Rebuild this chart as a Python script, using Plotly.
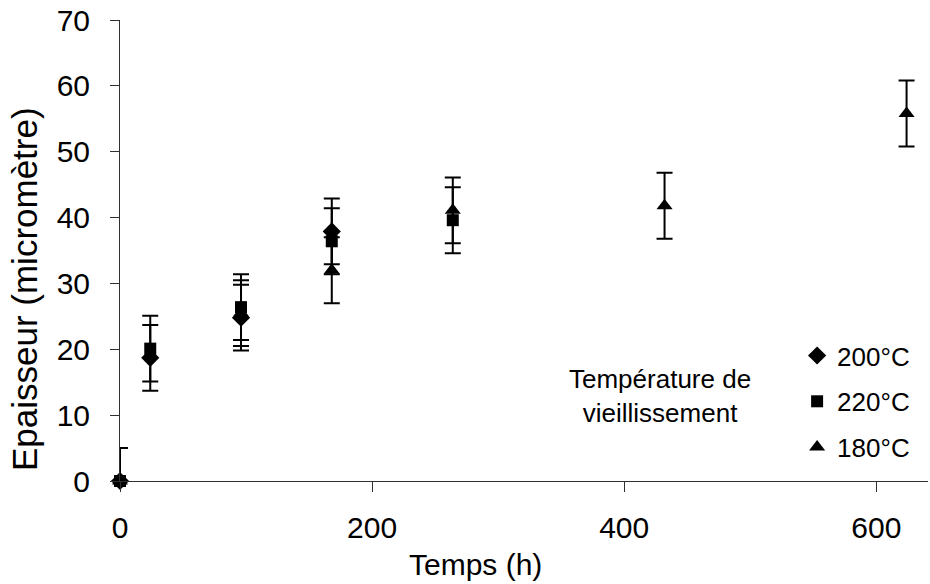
import plotly.graph_objects as go

# Data
times_200 = [0, 24, 96, 168]
vals_200 = [0, 18.7, 24.8, 37.9]
err_200 = [5, 5, 5, 5]
errm_200 = [0, 5, 5, 5]

times_220 = [0, 24, 96, 168, 264]
vals_220 = [0, 20.1, 26.4, 36.4, 39.6]
err_220 = [5, 5, 5, 5, 5]
errm_220 = [0, 5, 5, 5, 5]

times_180 = [0, 96, 168, 264, 432, 624]
vals_180 = [0, 25.5, 32.0, 41.1, 41.8, 55.8]
err_180 = [5, 5, 5, 5, 5, 5]
errm_180 = [0, 5, 5, 5, 5, 5]

x_ticks = [0, 200, 400, 600]
y_ticks = [0, 10, 20, 30, 40, 50, 60, 70]

FONT = "Liberation Sans, Arial, sans-serif"

fig = go.Figure()

def add(name, x, y, e, em, symbol, size, group):
    fig.add_trace(go.Scatter(
        x=x, y=y, mode="markers", name=name, legendgroup=group,
        marker=dict(symbol=symbol, size=size, color="black"),
        error_y=dict(type="data", array=e, arrayminus=em, symmetric=False,
                     color="black", thickness=2, width=8),
        cliponaxis=False,
    ))

add("200°C", times_200, vals_200, err_200, errm_200, "diamond", 14, "a")
add("220°C", times_220, vals_220, err_220, errm_220, "square", 12, "b")
add("180°C", times_180, vals_180, err_180, errm_180, "triangle-up", 14, "c")

fig.update_layout(
    width=930, height=584,
    margin=dict(l=120, r=2, t=20, b=103),
    paper_bgcolor="white", plot_bgcolor="white",
    font=dict(family=FONT, color="black", size=24),
    showlegend=True,
    legend=dict(
        x=0.838, y=0.323, xanchor="left", yanchor="top",
        font=dict(size=26, family=FONT),
        tracegroupgap=9, itemwidth=30,
        bgcolor="rgba(0,0,0,0)",
    ),
    xaxis=dict(
        range=[0, 641], tickvals=x_ticks, showgrid=False, zeroline=False,
        showline=True, linecolor="#303030", linewidth=1,
        ticks="outside", ticklen=10, tickcolor="#303030",
        tickfont=dict(size=30), ticklabelstandoff=10, automargin=False,
    ),
    yaxis=dict(
        range=[0, 70], tickvals=y_ticks, showgrid=False, zeroline=False,
        showline=True, linecolor="#303030", linewidth=1,
        ticks="outside", ticklen=9, tickcolor="#303030",
        tickfont=dict(size=30), ticklabelstandoff=14, automargin=False,
    ),
    annotations=[
        dict(text="Temps (h)", xref="paper", yref="paper", x=0.44, y=-0.182,
             xanchor="center", yanchor="middle", showarrow=False,
             font=dict(size=30)),
        dict(text="Epaisseur (micromètre)", xref="paper", yref="paper",
             x=-0.119, y=0.416, xanchor="center", yanchor="middle",
             textangle=-90, showarrow=False, font=dict(size=35)),
        dict(text="Température de<br>vieillissement", xref="paper", yref="paper",
             x=0.668, y=0.184, xanchor="center", yanchor="middle", showarrow=False,
             font=dict(size=26)),
    ],
)

fig.write_html("out.html", config={"displayModeBar": False},
               post_script="document.body.style.margin='0px';")
